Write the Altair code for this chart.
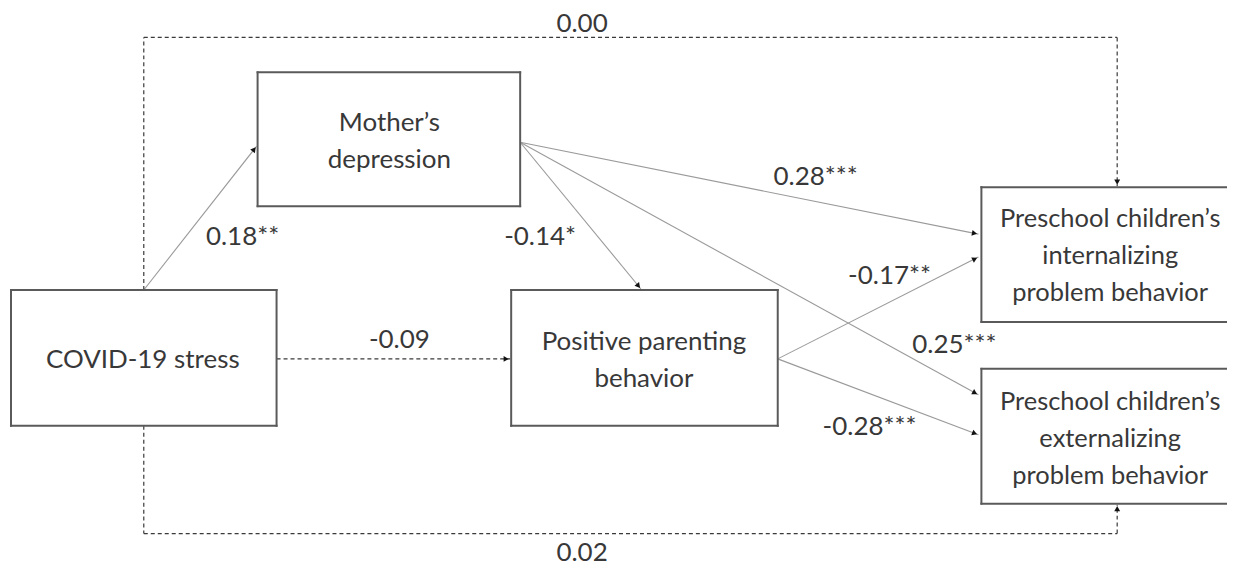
import math
import altair as alt
import pandas as pd

# ---- nodes (boxes) in page pixel coordinates ----
box_names = ["Mother", "COVID", "Positive", "Internal", "External"]
box_x1 = [258, 11, 512, 983, 983]
box_x2 = [521, 277, 779, 1400, 1400]
box_y1 = [72, 290, 290, 187, 369]
box_y2 = [206, 426, 426, 322, 504]
box_labels = ["Mother’s\ndepression", "COVID-19 stress", "Positive parenting\nbehavior",
              "Preschool children’s\ninternalizing\nproblem behavior",
              "Preschool children’s\nexternalizing\nproblem behavior"]
box_tx = [390, 143, 645, 1112, 1112]
box_ty = [123, 360, 342, 219, 402]   # first line
box_fs = [26, 26, 26, 25.5, 25.5]

# ---- paths: list of polylines (solid / dashed) ----
path_style = ["solid", "solid", "solid", "solid", "solid", "solid", "dashed", "dashed", "dashed"]
path_pts = [
    [(144, 290), (257, 146)],
    [(521, 142), (980, 234)],
    [(521, 142), (642, 289)],
    [(521, 142), (980, 395)],
    [(779, 359), (980, 257)],
    [(779, 359), (980, 435)],
    [(277, 359), (511, 359)],
    [(144, 290), (144, 37), (1119, 37), (1119, 186)],
    [(144, 426), (144, 534), (1119, 534), (1119, 505)],
]

# ---- coefficient labels ----
coef_text = ["0.00", "0.02", "0.18**", "-0.14*", "0.28***", "-0.17**", "0.25***", "-0.28***", "-0.09"]
coef_x = [583, 583, 243, 541, 817, 891, 956, 871, 400]
coef_y = [24, 553, 237, 237, 177, 276, 345, 427, 340]

W, H = 1220, 552

segs = []
heads = []
for style, pts in zip(path_style, path_pts):
    for (xa, ya), (xb, yb) in zip(pts[:-1], pts[1:]):
        segs.append(dict(x=xa, y=ya, x2=xb, y2=yb, style=style))
    (xa, ya), (xb, yb) = pts[-2], pts[-1]
    dx, dy = xb - xa, yb - ya
    L = math.hypot(dx, dy)
    ang = math.degrees(math.atan2(dx, -dy)) % 360
    heads.append(dict(x=xb - 4 * dx / L, y=yb - 4 * dy / L, ang=ang))

# box outlines as edges; edges lying beyond the visible page are dropped
edges = []
for a, b, c, d in zip(box_x1, box_x2, box_y1, box_y2):
    right = min(b, 8 + W)
    edges.append(dict(x=a, x2=right, y=c, y2=c))
    edges.append(dict(x=a, x2=right, y=d, y2=d))
    edges.append(dict(x=a, x2=a, y=c, y2=d))
    if b <= 8 + W:
        edges.append(dict(x=b, x2=b, y=c, y2=d))

seg_df = pd.DataFrame(segs)
head_df = pd.DataFrame(heads)
edge_df = pd.DataFrame(edges)
box_df = pd.DataFrame(dict(name=box_names, x=box_x1, x2=[min(v, 8 + W) for v in box_x2],
                           y=box_y1, y2=box_y2,
                           label=box_labels, tx=box_tx, ty=box_ty, fs=box_fs))
coef_df = pd.DataFrame(dict(t=coef_text, x=coef_x, y=coef_y))

xs = alt.Scale(domain=[8, 8 + W], range=[0, W], zero=False, nice=False)
ys = alt.Scale(domain=[8, 8 + H], range=[0, H], zero=False, nice=False)
X = lambda f: alt.X(f, type="quantitative", scale=xs, axis=None)
Y = lambda f: alt.Y(f, type="quantitative", scale=ys, axis=None)

FONT = "Lato"
TXT = "#383838"

solid = alt.Chart(seg_df).transform_filter("datum.style == 'solid'").mark_rule(
    color="#9a9a9a", strokeWidth=1.1).encode(x=X("x"), y=Y("y"), x2="x2", y2="y2")
dashed = alt.Chart(seg_df).transform_filter("datum.style == 'dashed'").mark_rule(
    color="#3a3a3a", strokeWidth=1.2, strokeDash=[4, 3]).encode(x=X("x"), y=Y("y"), x2="x2", y2="y2")
arrows = alt.Chart(head_df).mark_point(shape="triangle-up", filled=True, color="#111111",
                                        size=35, opacity=1).encode(
    x=X("x"), y=Y("y"), angle=alt.Angle("ang:Q", scale=None))
boxes = alt.Chart(box_df).mark_rect(fill="white", strokeWidth=0).encode(
    x=X("x"), y=Y("y"), x2="x2", y2="y2")
outline = alt.Chart(edge_df).mark_rule(color="#5a5a5a", strokeWidth=2, strokeCap="square").encode(
    x=X("x"), y=Y("y"), x2="x2", y2="y2")
box_text = alt.Chart(box_df).mark_text(font=FONT, color=TXT,
                                       lineBreak="\n", lineHeight=37, baseline="middle").encode(
    x=X("tx"), y=Y("ty"), text="label:N", size=alt.Size("fs:Q", scale=None))
coef = alt.Chart(coef_df).mark_text(font=FONT, fontSize=26, color=TXT,
                                    baseline="middle").encode(x=X("x"), y=Y("y"), text="t:N")

chart = alt.layer(solid, dashed, boxes, outline, arrows, box_text, coef).properties(
    width=W, height=H, padding=0
).configure_view(stroke=None)

chart.save("out.html", embed_options={"renderer": "svg", "actions": False})
